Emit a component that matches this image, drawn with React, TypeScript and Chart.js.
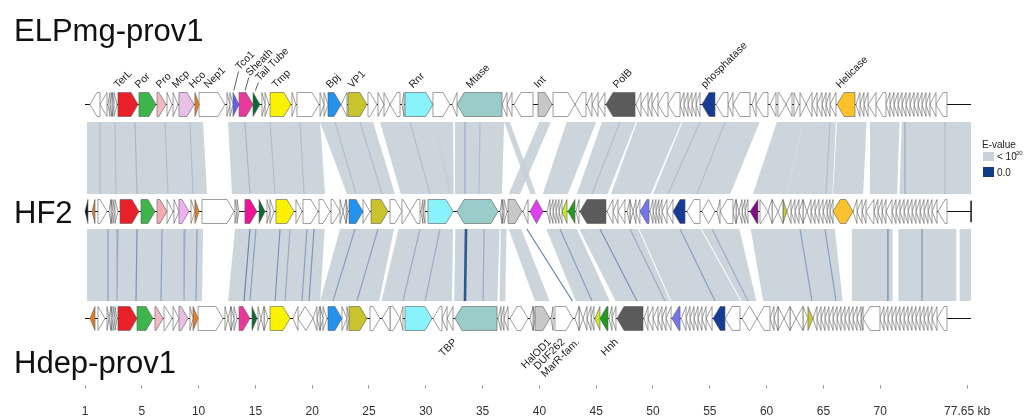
import React, { useEffect, useRef } from 'react';
import { Chart, registerables } from 'chart.js';
Chart.register(...registerables);

// ---------- data ----------
const genomeNames = ['ELPmg-prov1', 'HF2', 'Hdep-prov1'];
const genomeRows = [3, 2, 1];
const genomeLengths = [78.0, 78.0, 78.0];

const tickValues = [0, 5, 10, 15, 20, 25, 30, 35, 40, 45, 50, 55, 60, 65, 70, 77.65];
const tickLabels = ['1', '5', '10', '15', '20', '25', '30', '35', '40', '45', '50', '55', '60', '65', '70', '77.65 kb'];

// [start kb, end kb, strand (1 fwd, -1 rev, 0 both), colour key]
type Gene = [number, number, number, string?];

const elpGenes: Gene[] = [
  [0.44, 1.32, -1], [1.32, 1.94, -1], [2.02, 2.2, -1], [2.2, 2.38, -1], [2.38, 2.55, 1], [2.55, 2.82, 1],
  [2.9, 4.67, 1, 'red'], [4.75, 6.25, 1, 'green'], [6.34, 7.13, 1, 'pink'], [7.22, 7.66, 1], [7.75, 8.19, 1],
  [8.27, 9.6, 1, 'plum'], [9.68, 10.04, 1, 'orange'], [10.04, 12.32, 1], [12.5, 12.76, 1], [12.76, 13.03, 1],
  [13.03, 13.56, 1, 'violet'], [13.56, 14.79, 1, 'magenta'], [14.79, 15.4, 1, 'dkgreen'], [15.58, 15.85, 1], [15.85, 16.2, 1],
  [16.29, 18.13, 1, 'yellow'], [18.22, 18.57, 1], [18.66, 20.6, 1], [20.69, 21.04, 1], [21.04, 21.39, 1],
  [21.39, 22.54, 1, 'blue'], [22.54, 23.06, -1], [23.15, 24.82, 1, 'olive'], [24.91, 25.7, 1], [25.79, 26.32, 1],
  [26.32, 26.85, 1], [26.85, 27.73, -1], [27.9, 28.08, -1],
  [28.17, 30.63, 1, 'cyan'], [30.63, 32.13, 1], [32.31, 32.75, -1], [32.75, 36.71, -1, 'teal'], [36.71, 37.15, -1],
  [37.15, 37.59, -1], [37.76, 39.44, -1],
  [39.88, 41.11, 1, 'grey'], [41.2, 43.13, 1], [43.13, 44.1, -1], [44.19, 44.63, -1], [44.63, 45.16, -1], [45.16, 45.77, -1],
  [45.86, 48.42, -1, 'dkgrey'], [48.5, 48.94, -1], [48.94, 49.56, -1], [49.56, 49.91, -1], [49.91, 50.44, -1],
  [50.44, 51.32, -1], [51.32, 52.38, -1], [52.38, 52.73, -1], [52.73, 53.08, -1], [53.08, 53.43, -1], [53.43, 53.79, -1],
  [53.79, 54.14, -1],
  [54.31, 55.46, -1, 'navy'], [55.55, 56.6, -1], [56.6, 57.04, -1], [57.04, 58.54, -1], [58.71, 59.07, -1], [59.07, 60.12, -1],
  [60.3, 60.83, -1], [61.0, 61.71, 1], [61.71, 62.24, -1], [62.41, 62.85, 1], [62.94, 63.47, 1], [63.47, 64.0, -1],
  [64.0, 64.44, -1], [64.44, 64.88, -1], [64.88, 65.23, -1], [65.23, 65.58, -1], [65.58, 66.11, -1],
  [66.2, 67.78, -1, 'gold'], [67.87, 68.22, -1], [68.22, 68.57, -1], [68.57, 68.93, -1], [68.93, 69.63, -1], [69.63, 70.51, -1],
  [70.51, 70.86, -1], [70.86, 71.21, -1], [71.21, 71.57, -1], [71.57, 71.92, -1], [71.92, 72.27, -1], [72.27, 72.62, -1],
  [72.62, 72.98, -1], [72.98, 73.33, -1], [73.33, 73.68, -1], [73.68, 74.03, -1], [74.03, 74.38, -1], [74.38, 74.91, -1],
  [74.91, 75.88, -1],
];

const hf2Genes: Gene[] = [
  [0.0, 0.26, -1, 'black'], [0.62, 0.88, -1, 'orange'], [1.14, 1.94, 1], [2.11, 2.29, -1], [2.29, 2.46, 1], [2.46, 2.64, 1],
  [2.64, 2.9, 1], [3.08, 4.75, 1, 'red'], [4.93, 6.16, 1, 'green'], [6.34, 7.22, 1, 'pink2'], [7.22, 7.75, 1], [7.83, 8.27, 1],
  [8.27, 9.15, 1, 'plum2'], [9.33, 9.68, 1], [9.68, 10.04, 1, 'orange'], [10.3, 13.12, 1], [13.2, 13.38, 1], [13.38, 13.56, 1],
  [14.08, 15.14, 1, 'magenta2'], [15.32, 15.85, 1, 'dkgreen'], [16.02, 16.29, 1], [16.29, 16.64, 1], [16.81, 18.4, 1, 'yellow'],
  [18.57, 19.1, 1], [19.19, 20.51, 1], [20.6, 21.57, 1], [21.66, 22.45, 1], [22.45, 22.71, 1], [22.71, 22.98, -1],
  [22.98, 23.15, 1], [23.24, 24.47, 1, 'blue'], [24.47, 25.09, 1], [25.18, 26.67, 1, 'olive'], [26.85, 27.9, 1],
  [27.9, 28.61, 1], [28.61, 29.49, -1], [29.58, 29.75, -1], [29.75, 29.93, -1], [30.19, 32.4, 1, 'cyan'],
  [32.75, 36.36, 0, 'teal'], [36.53, 36.71, -1], [36.71, 36.88, 1], [36.88, 37.15, 1], [37.24, 38.47, 1, 'grey'],
  [38.56, 39.0, -1], [39.17, 40.32, 0, 'hmag'], [40.67, 40.93, -1], [40.93, 41.2, -1], [41.2, 41.46, -1], [41.46, 41.72, -1],
  [41.72, 41.99, -1], [41.99, 42.43, -1, 'ygreen'], [42.52, 43.13, -1, 'lgreen'], [43.22, 43.49, -1],
  [43.57, 45.86, -1, 'dkgrey'], [45.95, 46.48, -1], [46.48, 46.92, -1], [46.92, 47.53, -1], [47.71, 47.97, -1],
  [47.97, 48.24, 1], [48.24, 48.5, -1], [48.5, 48.85, -1], [48.85, 49.65, -1, 'bviolet'], [49.73, 50.0, -1], [50.0, 50.26, -1],
  [50.26, 50.52, -1], [50.52, 50.79, -1], [50.79, 51.23, -1], [51.23, 51.76, -1], [51.76, 52.82, -1, 'navy'],
  [52.99, 54.14, -1], [54.31, 55.46, 0], [55.64, 55.9, -1], [55.9, 57.04, -1], [57.04, 57.31, -1], [57.31, 57.57, 1],
  [57.57, 57.84, -1], [57.84, 58.1, -1], [58.1, 58.36, -1], [58.54, 59.24, -1, 'purple'], [59.42, 60.12, 1], [60.12, 60.48, -1],
  [60.48, 61.0, 1], [61.0, 61.44, -1], [61.44, 61.79, 1, 'olive2'], [61.79, 62.15, -1], [62.15, 62.5, -1], [62.5, 62.85, -1],
  [62.85, 63.2, -1], [63.2, 63.56, 1], [63.56, 63.91, -1], [63.91, 64.26, -1], [64.26, 64.61, -1], [64.61, 64.97, -1],
  [64.97, 65.32, -1], [65.32, 65.58, -1], [65.58, 65.85, -1], [65.85, 67.61, 0, 'gold'], [67.61, 67.96, -1], [67.96, 68.4, -1],
  [68.4, 68.75, -1], [68.75, 69.45, -1], [69.45, 69.8, -1], [69.8, 70.16, -1], [70.16, 70.51, -1], [70.51, 71.04, -1],
  [71.04, 71.39, -1], [71.39, 71.74, -1], [71.74, 72.1, -1], [72.1, 72.45, -1], [72.45, 72.8, -1], [72.8, 73.15, -1],
  [73.15, 73.51, -1], [73.51, 73.86, -1], [73.86, 74.21, -1], [74.21, 74.56, -1], [74.56, 75.0, -1], [75.09, 75.88, -1],
];

const hdepGenes: Gene[] = [
  [0.44, 0.88, -1, 'orange'], [1.14, 1.76, 1], [1.94, 2.11, 1], [2.11, 2.29, -1], [2.29, 2.46, 1], [2.46, 2.64, 1],
  [2.64, 2.82, 1], [2.9, 4.58, 1, 'red'], [4.58, 5.99, 1, 'green'], [6.16, 6.87, 1, 'pink'], [6.95, 7.66, 1], [7.75, 8.27, 1],
  [8.27, 9.07, 1, 'plum'], [9.24, 9.51, 1], [9.51, 9.95, 1, 'orange'], [9.95, 12.15, 1], [12.32, 12.59, 1], [12.59, 12.85, -1],
  [12.85, 13.12, 1], [13.12, 13.38, 1], [13.56, 14.52, 1, 'magenta'], [14.7, 15.14, 1, 'dkgreen'], [15.23, 15.49, 1],
  [15.49, 15.76, -1], [15.76, 16.11, 1], [16.29, 18.05, 1, 'yellow'], [18.31, 18.75, -1], [18.75, 20.07, 0],
  [20.07, 20.42, -1], [20.42, 20.69, -1], [20.69, 20.95, 1], [20.95, 21.3, 1], [21.39, 22.62, 1, 'blue'], [22.62, 23.06, 1],
  [23.06, 23.24, 1], [23.24, 24.82, 1, 'olive'], [25.09, 25.97, 1], [26.15, 26.85, -1], [26.85, 27.73, 1], [27.73, 27.99, -1],
  [28.17, 30.55, 1, 'cyan'], [30.63, 31.43, -1], [31.43, 31.87, -1], [31.87, 32.4, -1], [32.57, 36.27, -1, 'teal'],
  [36.36, 36.62, -1], [36.62, 36.88, -1], [36.88, 37.24, -1], [37.41, 39.0, 0], [39.17, 39.44, -1], [39.44, 39.61, 1],
  [39.61, 40.93, 1, 'grey'], [41.02, 41.2, -1], [41.37, 42.96, 1], [43.13, 43.49, -1], [43.49, 43.84, 1], [43.84, 44.19, -1],
  [44.19, 44.54, -1], [44.54, 44.8, -1], [44.89, 45.33, -1, 'ygreen'], [45.33, 46.04, -1, 'lgreen'], [46.13, 46.39, -1],
  [46.39, 46.74, -1], [46.83, 49.12, -1, 'dkgrey'], [49.21, 49.56, -1], [49.56, 50.0, -1], [50.0, 50.44, -1],
  [50.44, 50.79, -1], [50.79, 51.15, -1], [51.15, 51.59, -1], [51.67, 52.38, -1, 'bviolet'], [52.47, 52.91, -1],
  [52.91, 53.26, -1], [53.26, 53.61, -1], [53.61, 53.96, -1], [53.96, 54.31, -1], [54.31, 54.67, -1], [54.67, 55.2, -1],
  [55.29, 56.34, -1, 'navy'], [56.34, 57.66, -1], [57.84, 59.16, 0], [59.16, 60.3, -1], [60.3, 60.65, -1], [60.65, 61.0, -1],
  [61.0, 61.53, 1], [61.53, 62.06, -1], [62.06, 62.59, 1], [62.59, 63.2, -1], [63.2, 63.64, 1], [63.64, 64.08, 1, 'olive2'],
  [64.08, 64.44, -1], [64.44, 64.79, -1], [64.79, 65.14, -1], [65.14, 65.49, -1], [65.49, 65.85, -1], [65.85, 66.2, -1],
  [66.2, 66.55, -1], [66.55, 66.9, -1], [66.9, 67.26, -1], [67.26, 67.61, -1], [67.61, 67.96, -1], [67.96, 68.31, -1],
  [68.31, 68.49, -1], [68.49, 69.98, -1], [69.98, 70.33, -1], [70.33, 70.68, -1], [70.68, 71.04, -1], [71.04, 71.39, -1],
  [71.39, 71.74, -1], [71.74, 72.1, -1], [72.1, 72.45, -1], [72.45, 72.8, -1], [72.8, 73.15, -1], [73.15, 73.51, -1],
  [73.51, 73.86, -1], [73.86, 74.21, -1], [74.21, 74.56, -1], [74.56, 75.0, -1], [75.0, 75.88, -1],
];

// synteny blocks: [upper start, upper end, lower start, lower end] (kb)
const topLinks: number[][] = [
  [0.18, 10.39, 0.18, 10.74], [12.59, 20.69, 12.94, 21.13], [20.69, 25.35, 23.06, 27.29], [25.97, 30.7, 27.8, 32.4],
  [30.7, 32.4, 32.0, 32.45], [32.57, 36.9, 32.57, 36.7], [36.9, 37.4, 39.2, 39.7], [40.0, 41.0, 37.3, 38.3],
  [42.4, 45.0, 40.3, 42.5], [45.5, 48.5, 43.3, 46.0], [48.6, 52.5, 46.3, 49.8], [52.6, 59.4, 50.0, 56.8],
  [60.9, 63.2, 58.8, 61.8], [63.2, 66.1, 61.8, 65.8], [66.2, 68.8, 65.85, 68.5], [69.1, 71.7, 69.1, 71.5],
  [71.9, 78.0, 71.7, 78.0],
];
const bottomLinks: number[][] = [
  [0.18, 10.39, 0.18, 10.3], [13.2, 21.1, 12.6, 20.7], [22.45, 27.2, 20.7, 25.9], [27.6, 32.4, 26.1, 32.3],
  [32.6, 36.5, 32.5, 36.3], [36.6, 37.1, 36.5, 37.0], [37.3, 38.4, 39.6, 40.9], [40.6, 43.3, 43.2, 46.2],
  [43.5, 48.7, 46.7, 51.5], [48.8, 54.2, 51.6, 57.7], [54.3, 57.6, 57.8, 59.1], [58.6, 66.0, 59.7, 66.7],
  [67.5, 71.1, 67.5, 71.1], [71.6, 76.7, 71.6, 76.7], [77.0, 78.0, 77.0, 78.0],
];
// individual high-identity hits: [upper kb, lower kb, strength 0..1]
const topHits: number[][] = [
  [1.32, 1.32, 0.15], [2.64, 2.73, 0.15], [4.4, 4.58, 0.2], [7.04, 7.31, 0.15], [9.24, 9.51, 0.15], [14.08, 14.52, 0.2],
  [16.29, 16.73, 0.15], [18.93, 19.28, 0.15], [22.01, 23.86, 0.15], [24.21, 26.15, 0.15], [28.61, 30.37, 0.15],
  [33.45, 33.45, 0.3], [34.77, 34.68, 0.15], [47.09, 44.63, 0.15], [54.14, 51.32, 0.15], [56.34, 53.87, 0.15],
  [65.58, 65.23, 0.15], [72.18, 72.18, 0.3], [75.7, 75.7, 0.15],
];
const bottomHits: number[][] = [
  [2.02, 2.02, 0.4], [2.9, 2.82, 0.3], [4.58, 4.49, 0.5], [6.78, 6.69, 0.4], [8.8, 8.72, 0.3], [9.86, 9.77, 0.4],
  [14.52, 14.0, 0.6], [15.05, 14.52, 0.4], [17.17, 16.73, 0.5], [18.05, 17.61, 0.3], [19.54, 19.1, 0.4],
  [20.16, 19.72, 0.5], [23.77, 21.83, 0.4], [25.79, 23.94, 0.4], [29.49, 27.99, 0.3], [31.25, 29.93, 0.3],
  [33.54, 33.45, 1.0], [35.13, 35.04, 0.3], [38.9, 42.9, 0.65], [41.81, 44.63, 0.4], [45.33, 48.59, 0.5],
  [47.97, 51.06, 0.3], [52.38, 55.46, 0.4], [55.2, 58.36, 0.3], [62.94, 64.0, 0.4], [65.14, 66.11, 0.4],
  [70.68, 70.68, 0.6], [73.68, 73.68, 0.5],
];

const topLabelNames = ['TerL', 'Por', 'Pro', 'Mcp', 'Hco', 'Nep1', 'Tco1', 'Sheath', 'Tail Tube', 'Tmp', 'Bpj', 'VP1', 'Rnr',
  'Mtase', 'Int', 'PolB', 'phosphatase', 'Helicase'];
const topLabelKb = [2.9, 4.75, 6.6, 8.0, 9.5, 10.83, 13.6, 14.5, 15.35, 16.81, 21.57, 23.5, 28.87, 33.89, 39.88, 46.83, 54.58, 66.46];
const topLabelLift = [0, 0, 0, 0, 0, 0, 18, 12, 7, 0, 0, 0, 0, 0, 0, 0, 0, 0];
const leaderBaseKb = [null, null, null, null, null, null, 13.1, 14.1, 15.0, null, null, null, null, null, null, null, null, null];

const bottomLabelNames = ['TBP', 'HalOD1', 'DUF262', 'MarR-fam.', 'Hnh'];
const bottomLabelKb = [32.6, 40.9, 42.1, 43.4, 46.8];

const palette: Record<string, string> = {
  w: '#ffffff', red: '#e8202a', green: '#3db54a', pink: '#f5b9c2', pink2: '#f4aab4', plum: '#ebc0e6', plum2: '#f2b0f2',
  orange: '#e57d25', violet: '#6262e8', magenta: '#e8399b', magenta2: '#ec1598', dkgreen: '#0b6b32', yellow: '#faf200',
  blue: '#2391ee', olive: '#c9c32e', cyan: '#88f3fa', teal: '#9accca', grey: '#c8c8c8', dkgrey: '#5b5b5b',
  navy: '#173a94', gold: '#fbc22e', hmag: '#e040f2', ygreen: '#c6ef1f', lgreen: '#1d9c20', bviolet: '#7474f0',
  purple: '#7f0c80', olive2: '#c9c93a', black: '#111111',
};

// ---------- layout ----------
const GENE_H = 0.112;
const HEAD = 0.62;
const BAND_GAP = 0.164;
const BAND_COLOR = '#c9d1d9';
const CANVAS_H = 435; // taller than the view; the bottom is clipped so the axis sits where it should

function mix(t: number) {
  const a = [200, 209, 217], b = [46, 88, 148];
  const c = a.map((v, i) => Math.round(v + (b[i] - v) * t));
  return `rgb(${c[0]},${c[1]},${c[2]})`;
}

function geneDataset(g: Gene, row: number) {
  const [s, e, strand, c = 'w'] = g;
  const y = row, h = GENE_H, w = e - s;
  const hd = Math.min(HEAD, w);
  let pts: number[][];
  if (strand > 0) pts = [[s, y + h], [e - hd, y + h], [e, y], [e - hd, y - h], [s, y - h], [s, y + h]];
  else if (strand < 0) pts = [[e, y + h], [s + hd, y + h], [s, y], [s + hd, y - h], [e, y - h], [e, y + h]];
  else {
    const hh = Math.min(HEAD, w / 2);
    pts = [[s, y], [s + hh, y + h], [e - hh, y + h], [e, y], [e - hh, y - h], [s + hh, y - h], [s, y]];
  }
  return {
    type: 'line', data: pts.map(([px, py]) => ({ x: px, y: py })), borderColor: '#5a5a5a', borderWidth: 0.6,
    backgroundColor: palette[c], fill: 'shape', pointRadius: 0, tension: 0, order: 0, borderJoinStyle: 'miter',
  };
}

function linkDataset(l: number[], yU: number, yL: number) {
  const [a1, a2, b1, b2] = l;
  return {
    type: 'line', data: [{ x: a1, y: yU }, { x: a2, y: yU }, { x: b2, y: yL }, { x: b1, y: yL }, { x: a1, y: yU }],
    borderColor: 'rgba(0,0,0,0)', borderWidth: 0, backgroundColor: 'rgba(198,207,216,0.9)', fill: 'shape',
    pointRadius: 0, tension: 0, order: 4,
  };
}

function hitDataset(hh: number[], yU: number, yL: number) {
  const [a, b, s] = hh;
  return {
    type: 'line', data: [{ x: a, y: yU }, { x: b, y: yL }], borderColor: mix(s), borderWidth: s >= 0.9 ? 2.6 : 1.2,
    fill: false, pointRadius: 0, tension: 0, order: 3, borderCapStyle: 'butt',
  };
}

const textPlugin = {
  id: 'genomeTexts',
  afterDraw(chart: any) {
    const { ctx, scales } = chart;
    const x = scales.x, y = scales.y;
    ctx.save();
    ctx.fillStyle = '#111';
    ctx.textAlign = 'left';
    ctx.textBaseline = 'alphabetic';
    ctx.font = '31px "Liberation Sans", Arial, sans-serif';
    const titleBase = [41, 223, 373];
    genomeNames.forEach((n, i) => ctx.fillText(n, 14, titleBase[i]));

    // top gene labels
    ctx.font = '10.5px "Liberation Sans", Arial, sans-serif';
    ctx.fillStyle = '#222';
    const yT = y.getPixelForValue(genomeRows[0]);
    topLabelNames.forEach((n, i) => {
      const px = x.getPixelForValue(topLabelKb[i]);
      const py = yT - 16 - topLabelLift[i];
      ctx.save();
      ctx.translate(px, py);
      ctx.rotate(-Math.PI / 4);
      ctx.fillText(n, 0, 0);
      ctx.restore();
      const lb = leaderBaseKb[i];
      if (lb !== null) {
        ctx.strokeStyle = '#333';
        ctx.lineWidth = 0.8;
        ctx.beginPath();
        ctx.moveTo(x.getPixelForValue(lb), yT - 14);
        ctx.lineTo(px - 1, py + 1);
        ctx.stroke();
      }
    });

    // bottom gene labels
    const yB = y.getPixelForValue(genomeRows[2]);
    ctx.textAlign = 'right';
    ctx.textBaseline = 'middle';
    bottomLabelNames.forEach((n, i) => {
      const px = x.getPixelForValue(bottomLabelKb[i]);
      ctx.save();
      ctx.translate(px, yB + 22);
      ctx.rotate(-Math.PI / 4);
      ctx.fillText(n, 0, 0);
      ctx.restore();
    });

    // legend
    ctx.textAlign = 'left';
    ctx.textBaseline = 'alphabetic';
    ctx.fillStyle = '#222';
    ctx.font = '10px "Liberation Sans", Arial, sans-serif';
    ctx.fillText('E-value', 982, 148);
    ctx.fillStyle = BAND_COLOR;
    ctx.fillRect(983, 152, 11, 9);
    ctx.fillStyle = '#0d3b86';
    ctx.fillRect(983, 167, 11, 10);
    ctx.fillStyle = '#222';
    ctx.fillText('< 10', 997, 160);
    ctx.fillText('0.0', 997, 176);
    ctx.font = '6px "Liberation Sans", Arial, sans-serif';
    ctx.fillText('-20', 1014, 155);
    ctx.restore();
  },
};

export default function App() {
  const ref = useRef<HTMLCanvasElement>(null);
  useEffect(() => {
    if (!ref.current) return;
    const datasets: any[] = [];
    const geneSets = [elpGenes, hf2Genes, hdepGenes];
    geneSets.forEach((gs, gi) => {
      gs.forEach((g) => datasets.push(geneDataset(g, genomeRows[gi])));
      datasets.push({
        type: 'line', data: [{ x: 0, y: genomeRows[gi] }, { x: genomeLengths[gi], y: genomeRows[gi] }],
        borderColor: '#111', borderWidth: 1, fill: false, pointRadius: 0, order: 1,
      });
    });
    // HF2 right end bar
    datasets.push({
      type: 'line', data: [{ x: genomeLengths[1], y: genomeRows[1] - GENE_H * 0.9 }, { x: genomeLengths[1], y: genomeRows[1] + GENE_H * 0.9 }],
      borderColor: '#111', borderWidth: 1.5, fill: false, pointRadius: 0, order: 1,
    });
    const tU = genomeRows[0] - BAND_GAP, tL = genomeRows[1] + BAND_GAP;
    const bU = genomeRows[1] - BAND_GAP, bL = genomeRows[2] + BAND_GAP;
    topLinks.forEach((l) => datasets.push(linkDataset(l, tU, tL)));
    bottomLinks.forEach((l) => datasets.push(linkDataset(l, bU, bL)));
    topHits.forEach((h) => datasets.push(hitDataset(h, tU, tL)));
    bottomHits.forEach((h) => datasets.push(hitDataset(h, bU, bL)));

    const pxPerKb = 11.36;
    const xMin = -85 / pxPerKb;
    const xMax = xMin + 1027 / pxPerKb;
    const pxPerRow = 107;
    const areaBottom = CANVAS_H - 50.4;
    const yMax = genomeRows[0] + 104.5 / pxPerRow;
    const yMin = genomeRows[2] - (areaBottom - 318.5) / pxPerRow;

    const chart = new Chart(ref.current, {
      type: 'line',
      data: { datasets },
      options: {
        animation: false,
        responsive: false,
        devicePixelRatio: 1,
        events: [],
        layout: { padding: 0 },
        plugins: { legend: { display: false }, tooltip: { enabled: false } },
        scales: {
          x: {
            type: 'linear', min: xMin, max: xMax,
            border: { display: false },
            grid: { drawOnChartArea: false, drawTicks: true, tickLength: 4, color: '#999', lineWidth: 1 },
            afterBuildTicks: (axis: any) => { axis.ticks = tickValues.map((v) => ({ value: v })); },
            ticks: {
              autoSkip: false, maxRotation: 0, padding: 16, color: '#333',
              font: { family: '"Liberation Sans", Arial, sans-serif', size: 12 },
              callback: (_v: any, i: number) => tickLabels[i],
            },
          },
          y: { type: 'linear', display: false, min: yMin, max: yMax },
        },
      } as any,
      plugins: [textPlugin],
    });
    return () => chart.destroy();
  }, []);
  return (
    <div style={{ position: 'absolute', left: 0, top: 0, width: 1027, height: 419, overflow: 'hidden', background: '#fff' }}>
      <canvas ref={ref} width={1027} height={CANVAS_H} style={{ width: 1027, height: CANVAS_H, display: 'block' }} />
    </div>
  );
}
